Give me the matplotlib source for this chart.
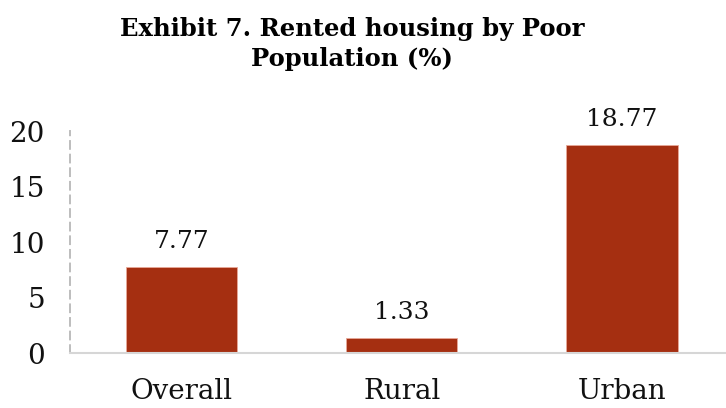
import numpy as np
import matplotlib.pyplot as plt

categories = ['Overall', 'Rural', 'Urban']
values = [7.77, 1.33, 18.77]
yticks = [0, 5, 10, 15, 20]

plt.rcParams['font.family'] = 'DejaVu Serif'

fig = plt.figure(figsize=(7.26, 4.08), dpi=100)
ax = fig.add_axes([0.0964, 0.1348, 0.9036, 0.544])

x = np.arange(len(categories))
bars = ax.bar(x, values, width=0.505, color='#A52F11', edgecolor='#E8A898', linewidth=0.6)

# value labels above the bars
for xi, v in zip(x, values):
    ax.annotate('%.2f' % v, (xi, v), xytext=(0, 10), textcoords='offset points',
                ha='center', va='bottom', fontsize=18, color='#111111')

ax.set_xlim(-0.506, 2.472)
ax.set_ylim(0, 20)
ax.set_yticks(yticks)
ax.set_xticks(x)
ax.set_xticklabels(categories)
ax.tick_params(axis='both', length=0, labelsize=20, colors='#111111')
ax.tick_params(axis='y', pad=18)
ax.tick_params(axis='x', pad=18)

for s in ['top', 'right']:
    ax.spines[s].set_visible(False)
ax.spines['left'].set_color('#BDBDBD')
ax.spines['left'].set_linestyle((0, (4, 3)))
ax.spines['left'].set_linewidth(1.4)
ax.spines['bottom'].set_color('#D6D6D6')
ax.spines['bottom'].set_linewidth(1.5)

fig.text(0.485, 0.892, 'Exhibit 7. Rented housing by Poor\nPopulation (%)', ha='center', va='center',
         fontsize=17.5, fontweight='bold', linespacing=1.3)

fig.savefig('out.png', dpi=100)
